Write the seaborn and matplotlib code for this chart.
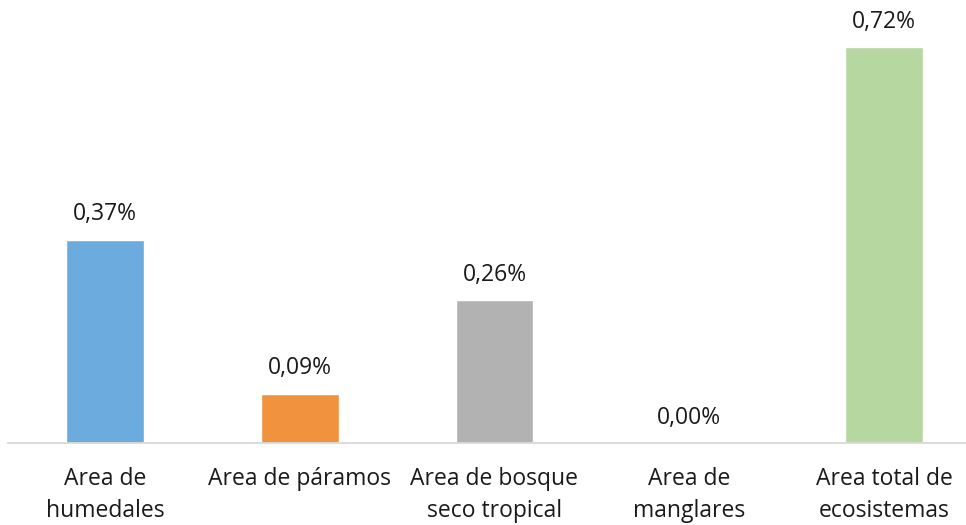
import matplotlib
matplotlib.use("Agg")
import matplotlib.pyplot as plt
import seaborn as sns
import pandas as pd

categories = ["Area de\nhumedales", "Area de páramos", "Area de bosque\nseco tropical",
              "Area de\nmanglares", "Area total de\necosistemas"]
values = [0.37, 0.09, 0.26, 0.00, 0.72]
labels = ["0,37%", "0,09%", "0,26%", "0,00%", "0,72%"]
colors = ["#6CABDD", "#F1923F", "#B2B2B2", "#FFC000", "#B7D7A1"]

sns.set_theme(style="white")
plt.rcParams["font.family"] = ["Open Sans", "DejaVu Sans"]

df = pd.DataFrame({"cat": categories, "val": values})

fig = plt.figure(figsize=(9.66, 5.25), dpi=100)
ax = fig.add_axes([7.6 / 966, 82 / 525, 1 - 7.6 / 966, 440 / 525])
sns.barplot(data=df, x="cat", y="val", hue="cat", palette=colors, width=0.4,
            legend=False, ax=ax, saturation=1)
ax.set_xlim(-0.5, 4.421)
ax.set_ylim(0, 0.8)
for i, (v, t) in enumerate(zip(values, labels)):
    ax.text(i, v + 0.024, t, ha="center", va="bottom", fontsize=16.5, color="#1a1a1a")

for s in ["top", "right", "left"]:
    ax.spines[s].set_visible(False)
ax.spines["bottom"].set_color("#d9d9d9")
ax.spines["bottom"].set_linewidth(1.3)
ax.set_yticks([])
ax.set_xlabel("")
ax.set_ylabel("")
ax.tick_params(axis="x", length=0, pad=17, labelsize=16.5, labelcolor="#1a1a1a")
for lab in ax.get_xticklabels():
    lab.set_linespacing(1.45)

fig.savefig("out.png", dpi=100)
